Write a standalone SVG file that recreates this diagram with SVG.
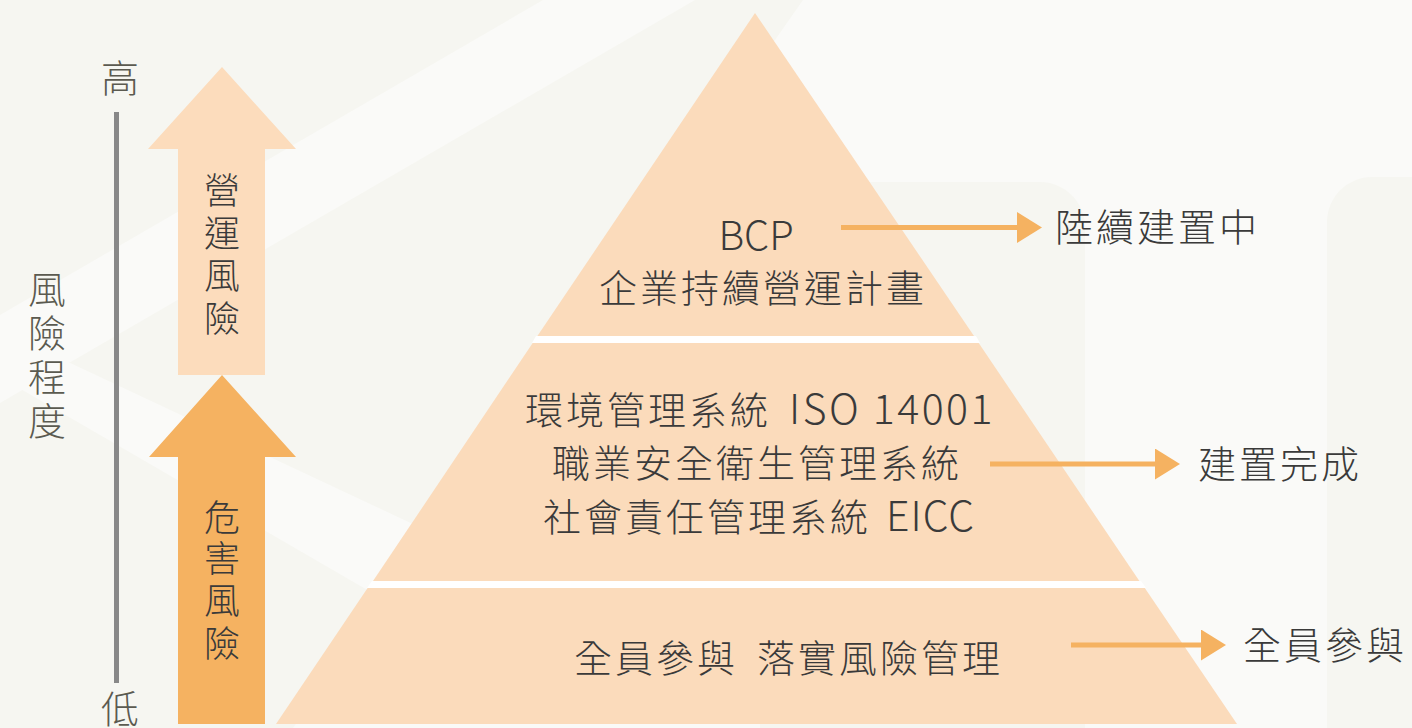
<svg xmlns="http://www.w3.org/2000/svg" width="1412" height="728" viewBox="0 0 1412 728">
<defs>
<style>
.bg{fill:#f6f6f1}
.lt{fill:#fafaf8}
.tier{fill:#fbdbbb}
.gap{fill:#ffffff}
.cn{font-family:"Noto Sans CJK TC","Noto Sans CJK SC",sans-serif;font-weight:300;fill:#3a3a3a}
.pt{font-size:38px;letter-spacing:3px}
.lat{font-size:41px}
.side{font-size:38px;fill:#5b5a50;text-anchor:middle}
.vt{font-size:36px;text-anchor:middle}
.conn{stroke:#f5b261;stroke-width:5;fill:none}
</style>
<marker id="ah" markerUnits="userSpaceOnUse" markerWidth="26" markerHeight="32" refX="0" refY="15.5" orient="auto">
<path d="M0,0 L25,15.5 L0,31 Z" fill="#f5b261"/>
</marker>
</defs>

<g id="background">
<rect class="bg" x="0" y="0" width="1412" height="728"/>
<polygon class="lt" points="543,0 695,0 0,403 0,315"/>
<polygon class="lt" points="0,330 600,612 600,725 0,377"/>
<polygon class="lt" points="803,0 1412,0 1412,728 293,728"/>
<rect class="bg" x="760" y="182" width="325" height="600" rx="45"/>
<rect class="bg" x="1327" y="177" width="200" height="600" rx="45"/>
</g>

<g id="risk-axis">
<line x1="116.5" y1="112" x2="116.5" y2="683" stroke="#888888" stroke-width="5"/>
<text class="cn side" x="120" y="92">高</text>
<text class="cn side" x="120" y="723">低</text>
<text class="cn side"><tspan x="47" y="303">風</tspan><tspan x="47" y="347">險</tspan><tspan x="47" y="391">程</tspan><tspan x="47" y="435">度</tspan></text>
</g>

<g id="operational-risk">
<polygon fill="#fcdcbc" points="222,67 296,149 265,149 265,375 178,375 178,149 148,149"/>
<text class="cn vt"><tspan x="222" y="204">營</tspan><tspan x="222" y="247">運</tspan><tspan x="222" y="289">風</tspan><tspan x="222" y="332">險</tspan></text>
</g>

<g id="hazard-risk">
<polygon fill="#f5b261" points="222,375 296,457 265,457 265,724 178,724 178,457 149,457"/>
<text class="cn vt"><tspan x="222" y="531">危</tspan><tspan x="222" y="572">害</tspan><tspan x="222" y="614">風</tspan><tspan x="222" y="657">險</tspan></text>
</g>

<g id="pyramid-gaps">
<polygon class="gap" points="536,336 976,336 980,343 532,343"/>
<polygon class="gap" points="372,581 1141,581 1146,588 367,588"/>
</g>

<g id="tier-bcp">
<polygon class="tier" points="755,13 974,336 537.4,336"/>
<text class="cn" x="756" y="250" font-size="40" text-anchor="middle">BCP</text>
<text class="cn pt" x="763" y="302" text-anchor="middle">企業持續營運計畫</text>
</g>

<g id="tier-systems">
<polygon class="tier" points="532.7,343 978.7,343 1139.4,581 373,581"/>
<text class="cn pt" x="525" y="424">環境管理系統 <tspan class="lat" x="789" letter-spacing="2.5">ISO 14001</tspan></text>
<text class="cn pt" x="552" y="477">職業安全衛生管理系統</text>
<text class="cn pt" x="543" y="531">社會責任管理系統 <tspan class="lat" x="886" letter-spacing="1">EICC</tspan></text>
</g>

<g id="tier-all">
<polygon class="tier" points="367.6,588 1144.8,588 1237,724 276,724"/>
<text class="cn pt" x="574" y="672">全員參與 <tspan x="757">落實風險管理</tspan></text>
</g>

<g id="connectors">
<line class="conn" x1="841" y1="227.5" x2="1017" y2="227.5" marker-end="url(#ah)"/>
<line class="conn" x1="990" y1="464" x2="1155" y2="464" marker-end="url(#ah)"/>
<line class="conn" x1="1071" y1="645" x2="1201" y2="645" marker-end="url(#ah)"/>
</g>

<g id="status-labels">
<text class="cn pt" x="1055" y="241">陸續建置中</text>
<text class="cn pt" x="1198" y="478">建置完成</text>
<text class="cn pt" x="1243" y="659">全員參與</text>
</g>
</svg>
